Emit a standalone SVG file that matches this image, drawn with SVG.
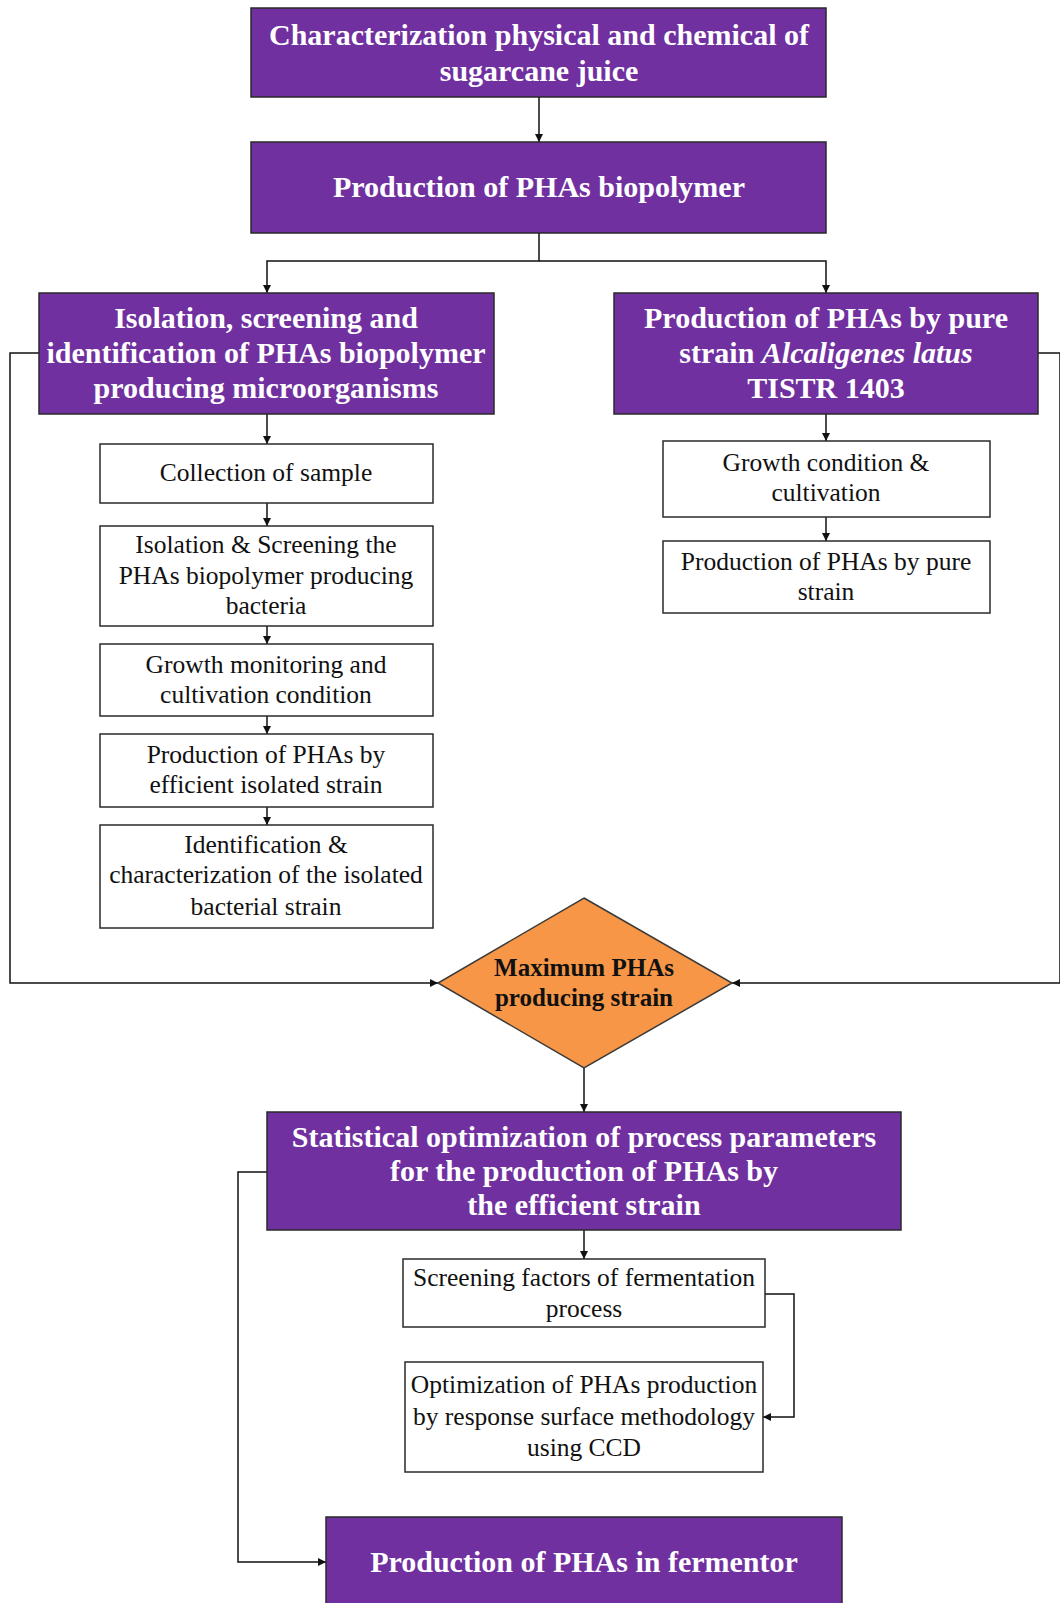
<svg xmlns="http://www.w3.org/2000/svg" width="1060" height="1603" viewBox="0 0 1060 1603">
<style>
.pb{fill:#7030A0;stroke:#2a2a2a;stroke-width:1.5}
.wb{fill:#fff;stroke:#2a2a2a;stroke-width:1.5}
.dm{fill:#F79646;stroke:#3a3a3a;stroke-width:1.5}
.ht{font-family:"Liberation Serif",serif;font-weight:bold;font-size:30px;fill:#fff;text-anchor:middle}
.bt{font-family:"Liberation Serif",serif;font-size:25.5px;fill:#111;text-anchor:middle}
.dt{font-family:"Liberation Serif",serif;font-weight:bold;font-size:25px;fill:#111;text-anchor:middle}
.ln{fill:none;stroke:#111;stroke-width:1.5}
</style>
<defs>
<marker id="ah" viewBox="0 0 10 10" refX="10" refY="5" markerWidth="8" markerHeight="8" markerUnits="userSpaceOnUse" orient="auto">
<path d="M0,0 L10,5 L0,10 z" fill="#111"/>
</marker>
</defs>
<rect width="1060" height="1603" fill="#fff"/>
<g id="connectors">
<path class="ln" d="M539,97 V142" marker-end="url(#ah)"/>
<path class="ln" d="M539,233 V261 H267 V293" marker-end="url(#ah)"/>
<path class="ln" d="M539,261 H826 V293" marker-end="url(#ah)"/>
<path class="ln" d="M267,414 V444" marker-end="url(#ah)"/>
<path class="ln" d="M267,503 V526" marker-end="url(#ah)"/>
<path class="ln" d="M267,626 V644" marker-end="url(#ah)"/>
<path class="ln" d="M267,716 V734" marker-end="url(#ah)"/>
<path class="ln" d="M267,807 V825" marker-end="url(#ah)"/>
<path class="ln" d="M826,414 V441" marker-end="url(#ah)"/>
<path class="ln" d="M826,517 V541" marker-end="url(#ah)"/>
<path class="ln" d="M39,353 H10 V983 H438" marker-end="url(#ah)"/>
<path class="ln" d="M1038,353 H1060 V983 H732" marker-end="url(#ah)"/>
<path class="ln" d="M584,1068 V1112" marker-end="url(#ah)"/>
<path class="ln" d="M584,1230 V1259" marker-end="url(#ah)"/>
<path class="ln" d="M765,1294 H794 V1417 H763" marker-end="url(#ah)"/>
<path class="ln" d="M267,1172 H238 V1562 H326" marker-end="url(#ah)"/>
</g>
<g id="n1">
<rect class="pb" x="251" y="8" width="575" height="89"/>
<text class="ht" x="539" y="45">Characterization physical and chemical of</text>
<text class="ht" x="539" y="81">sugarcane juice</text>
</g>
<g id="n2">
<rect class="pb" x="251" y="142" width="575" height="91"/>
<text class="ht" x="539" y="197">Production of PHAs biopolymer</text>
</g>
<g id="n3">
<rect class="pb" x="39" y="293" width="455" height="121"/>
<text class="ht" x="266" y="328">Isolation, screening and</text>
<text class="ht" x="266" y="363">identification of PHAs biopolymer</text>
<text class="ht" x="266" y="398">producing microorganisms</text>
</g>
<g id="n4">
<rect class="pb" x="614" y="293" width="424" height="121"/>
<text class="ht" x="826" y="328">Production of PHAs by pure</text>
<text class="ht" x="826" y="363">strain <tspan font-style="italic">Alcaligenes latus</tspan></text>
<text class="ht" x="826" y="398">TISTR 1403</text>
</g>
<g id="n5">
<rect class="wb" x="100" y="444" width="333" height="59"/>
<text class="bt" x="266" y="481">Collection of sample</text>
</g>
<g id="n6">
<rect class="wb" x="100" y="526" width="333" height="100"/>
<text class="bt" x="266" y="553">Isolation &amp; Screening the</text>
<text class="bt" x="266" y="584">PHAs biopolymer producing</text>
<text class="bt" x="266" y="614">bacteria</text>
</g>
<g id="n7">
<rect class="wb" x="100" y="644" width="333" height="72"/>
<text class="bt" x="266" y="673">Growth monitoring and</text>
<text class="bt" x="266" y="703">cultivation condition</text>
</g>
<g id="n8">
<rect class="wb" x="100" y="734" width="333" height="73"/>
<text class="bt" x="266" y="763">Production of PHAs by</text>
<text class="bt" x="266" y="793">efficient isolated strain</text>
</g>
<g id="n9">
<rect class="wb" x="100" y="825" width="333" height="103"/>
<text class="bt" x="266" y="853">Identification &amp;</text>
<text class="bt" x="266" y="883">characterization of the isolated</text>
<text class="bt" x="266" y="915">bacterial strain</text>
</g>
<g id="n10">
<rect class="wb" x="663" y="441" width="327" height="76"/>
<text class="bt" x="826" y="471">Growth condition &amp;</text>
<text class="bt" x="826" y="501">cultivation</text>
</g>
<g id="n11">
<rect class="wb" x="663" y="541" width="327" height="72"/>
<text class="bt" x="826" y="570">Production of PHAs by pure</text>
<text class="bt" x="826" y="600">strain</text>
</g>
<g id="n12">
<polygon class="dm" points="584,898 732,983 584,1068 438,983"/>
<text class="dt" x="584" y="976">Maximum PHAs</text>
<text class="dt" x="584" y="1006">producing strain</text>
</g>
<g id="n13">
<rect class="pb" x="267" y="1112" width="634" height="118"/>
<text class="ht" x="584" y="1147">Statistical optimization of process parameters</text>
<text class="ht" x="584" y="1181">for the production of PHAs by</text>
<text class="ht" x="584" y="1215">the efficient strain</text>
</g>
<g id="n14">
<rect class="wb" x="403" y="1259" width="362" height="68"/>
<text class="bt" x="584" y="1286">Screening factors of fermentation</text>
<text class="bt" x="584" y="1317">process</text>
</g>
<g id="n15">
<rect class="wb" x="405" y="1362" width="358" height="110"/>
<text class="bt" x="584" y="1393">Optimization of PHAs production</text>
<text class="bt" x="584" y="1425">by response surface methodology</text>
<text class="bt" x="584" y="1456">using CCD</text>
</g>
<g id="n16">
<rect class="pb" x="326" y="1517" width="516" height="100"/>
<text class="ht" x="584" y="1572">Production of PHAs in fermentor</text>
</g>
</svg>
